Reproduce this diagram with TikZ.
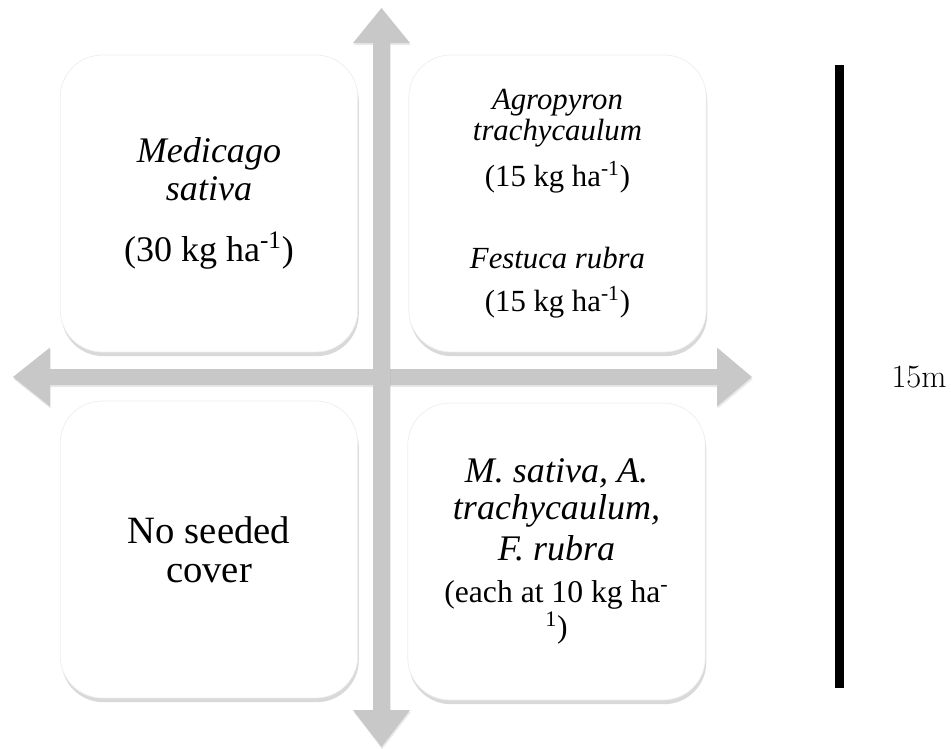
\documentclass[tikz,border=0pt]{standalone}
\usepackage{fontspec}
\setmainfont{Liberation Serif}
\newfontfamily\lmfont{Latin Modern Roman}
\usetikzlibrary{shadows}
\definecolor{axisgray}{RGB}{200,200,200}
\definecolor{edgegray}{RGB}{238,238,238}
\newcommand{\perha}{ha\textsuperscript{-1}}
\begin{document}
\begin{tikzpicture}[x=0.02cm, y=-0.02cm,
  quad/.style={draw=edgegray, line width=0.4pt, fill=white, rounded corners=0.84cm,
    minimum width=5.95cm, minimum height=5.94cm, inner sep=0pt, align=center,
    drop shadow={shadow xshift=0.6pt, shadow yshift=-2.4pt, opacity=0.3}},
  axis/.style={fill=axisgray,
    drop shadow={shadow xshift=0.4pt, shadow yshift=-1.2pt, opacity=0.18}}]
  \useasboundingbox (0,0) rectangle (951,748);
  % the four plots
  \node[quad, font=\fontsize{20.5}{21.6}\selectfont] (mono) at (209,203.5)
    {\textit{Medicago}\\\textit{sativa}\\[13pt](30 kg \perha)};
  \node[quad, font=\fontsize{17.5}{17.6}\selectfont] (grass) at (557.5,203.5)
    {\textit{Agropyron}\\\textit{trachycaulum}\\[7pt](15 kg \perha)\\[29pt]
     \textit{Festuca rubra}\\[7pt](15 kg \perha)};
  \node[quad, font=\fontsize{22}{22.2}\selectfont] (bare) at (209,549.5) {No seeded\\cover};
  \node[quad, font=\fontsize{20.5}{20.8}\selectfont] (mix) at (556.5,551.5)
    {\textit{M. sativa, A.}\\\textit{trachycaulum,}\\[3pt]\textit{F. rubra}\\[3pt]
     \fontsize{18}{20}\selectfont(each at 10 kg ha\textsuperscript{-}\\[-1pt]
     \fontsize{18}{20}\selectfont\textsuperscript{1})};
  % axes
  \fill[axis] (13,377) -- (50,347.5) -- (50,369) -- (717,369) -- (717,347.5) -- (752,377)
    -- (717,406.5) -- (717,385) -- (50,385) -- (50,406.5) -- cycle;
  \fill[axis] (381.5,8) -- (410,43) -- (390,43) -- (390,710) -- (410,710) -- (381.5,747)
    -- (353,710) -- (373,710) -- (373,43) -- (353,43) -- cycle;
  % scale bar
  \coordinate (bartop) at (839,65);
  \coordinate (barbot) at (839,688);
  \draw[line width=0.18cm] (bartop) -- (barbot);
  \node[font=\lmfont\fontsize{18.5}{20}\selectfont] (len) at (919,377) {15m};
\end{tikzpicture}
\end{document}
